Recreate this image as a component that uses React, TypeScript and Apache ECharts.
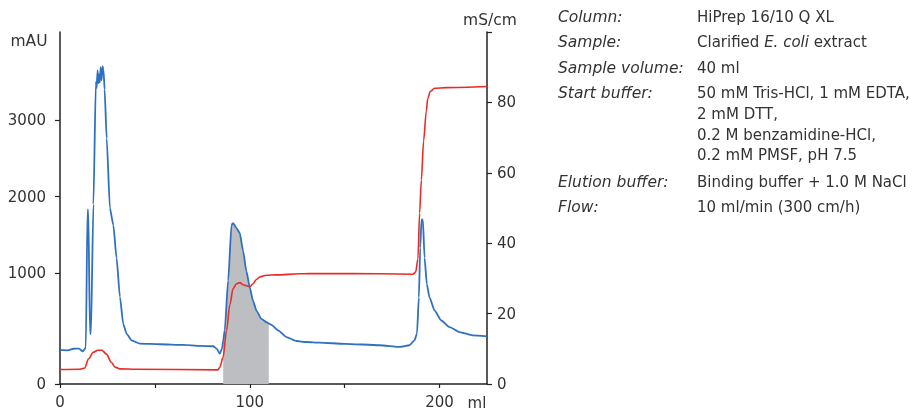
import React, { useEffect, useRef } from 'react';
import * as echarts from 'echarts';

// UV trace (ml, mAU)
const uvVolume = [0, 4, 7, 10, 12, 13.6, 14.5, 14.9, 15.8, 16.3, 17.6, 18.9, 19.3, 19.8, 20.2, 20.5, 21.0, 21.4, 21.9, 22.4, 22.9, 23.5, 24.6, 26.3, 28.1, 29.8, 31.6, 33.3, 35.1, 37.7, 42.1, 52.6, 65, 73.7, 80.7, 82.5, 84.2, 85.4, 86, 86.8, 88.6, 90.4, 91.2, 93.0, 94.7, 96.5, 98.2, 100, 101.7, 103.5, 106.1, 108.8, 110, 111.4, 114.9, 119.3, 124.6, 129.8, 136.8, 150, 168.4, 179, 184.2, 186.8, 188.1, 189.1, 189.8, 190.5, 191.2, 192.1, 193.3, 194.7, 197.4, 200.9, 205.3, 210.5, 217.5, 224.9];
const uvAbsorbance = [0, -5, 15, 18, -20, 30, 1830, 1830, 210, 210, 1900, 3500, 3420, 3650, 3480, 3600, 3490, 3690, 3520, 3700, 3660, 3400, 2760, 1850, 1630, 1200, 690, 340, 210, 125, 81, 74, 65, 52, 48, 17, -48, 17, 120, 259, 906, 1634, 1656, 1591, 1526, 1290, 1031, 815, 643, 514, 405, 362, 345, 327, 255, 168, 116, 103, 94, 80, 61, 39, 61, 125, 211, 686, 1332, 1699, 1700, 1203, 858, 686, 514, 384, 298, 233, 190, 177];

// Conductivity trace (ml, mS/cm)
const condVolume = [0, 10, 13, 15, 17.5, 20, 22, 24.5, 27, 29, 31.6, 40, 83.2, 84.2, 85.9, 87.7, 89.5, 91.2, 93, 94.7, 96.5, 98.3, 100, 101.7, 103.5, 105.3, 108.8, 114, 126.3, 136.8, 168.4, 186, 187.4, 188.6, 189.5, 190.4, 191.6, 193, 193.8, 195.1, 197.4, 203.5, 224.9];
const condValue = [4.1, 4.2, 4.5, 7.1, 9.0, 9.6, 9.6, 8.5, 6.2, 4.8, 4.3, 4.2, 4.0, 4.75, 7.55, 15.0, 22.5, 27.1, 28.5, 28.8, 28.2, 27.9, 27.6, 28.5, 29.7, 30.4, 30.9, 31.0, 31.3, 31.4, 31.3, 31.2, 31.8, 35.5, 48.6, 57.9, 69.1, 77.5, 81.2, 83.1, 84.0, 84.2, 84.5];

// Pooled fraction (ml)
const poolStart = 86;
const poolEnd = 110;

// Axes
const xMin = 0;
const xMax = 225;
const xTickValues = [0, 50, 100, 150, 200];
const xLabelValues = [0, 100, 200];
const mauMin = -445;
const mauMax = 4150;
const mauTickValues = [-445, 1000, 2000, 3000];
const mauTickLabels = ['0', '1000', '2000', '3000'];
const condMin = 0;
const condMax = 100;
const condInterval = 20;

// Info block
const infoLabels = ['Column:', 'Sample:', 'Sample volume:', 'Start buffer:', '', '', '', 'Elution buffer:', 'Flow:'];
const infoValues = [
  'HiPrep 16/10 Q XL',
  'Clarified {i|E. coli} extract',
  '40 ml',
  '50 mM Tris-HCl, 1 mM EDTA,',
  '2 mM DTT,',
  '0.2 M benzamidine-HCl,',
  '0.2 mM PMSF, pH 7.5',
  'Binding buffer + 1.0 M NaCl',
  '10 ml/min (300 cm/h)',
];
const infoY = [17, 42, 68, 93, 114, 135, 155, 182, 207];

const FONT = '"DejaVu Sans", sans-serif';
const TEXT = '#333333';
const AXIS = '#222222';

export default function App() {
  const ref = useRef<HTMLDivElement>(null);
  useEffect(() => {
    if (!ref.current) return;
    const chart = echarts.init(ref.current, undefined, { renderer: 'svg' });
    const uvData = uvVolume.map((v, i) => [v, uvAbsorbance[i]]);
    const condData = condVolume.map((v, i) => [v, condValue[i]]);
    const poolData = uvData.filter((p) => p[0] >= poolStart && p[0] <= poolEnd);

    const graphics: any[] = [];
    infoLabels.forEach((t, i) => {
      if (t) {
        graphics.push({
          type: 'text', x: 558, y: infoY[i],
          style: { text: t, fontSize: 15.5, fontFamily: FONT, fontStyle: 'italic', fill: TEXT, verticalAlign: 'middle' },
        });
      }
    });
    infoValues.forEach((t, i) => {
      graphics.push({
        type: 'text', x: 697, y: infoY[i],
        style: {
          text: t, fontSize: 15, fontFamily: FONT, fill: TEXT, verticalAlign: 'middle',
          rich: { i: { fontStyle: 'italic', fontSize: 15, fontFamily: FONT, fill: TEXT } },
        },
      });
    });
    graphics.push({ type: 'text', x: 29, y: 41, style: { text: 'mAU', fontSize: 15.5, fontFamily: FONT, fill: TEXT, align: 'center', verticalAlign: 'middle' } });
    graphics.push({ type: 'text', x: 490, y: 20, style: { text: 'mS/cm', fontSize: 15.5, fontFamily: FONT, fill: TEXT, align: 'center', verticalAlign: 'middle' } });
    graphics.push({ type: 'text', x: 477, y: 403, style: { text: 'ml', fontSize: 15, fontFamily: FONT, fill: TEXT, align: 'center', verticalAlign: 'middle' } });

    chart.setOption({
      animation: false,
      grid: { left: 60, right: 435, top: 32, bottom: 23, containLabel: false },
      xAxis: {
        type: 'value', min: xMin, max: xMax,
        axisLine: { onZero: false, lineStyle: { color: AXIS, width: 1.5 } },
        axisTick: { customValues: xTickValues, length: 4, lineStyle: { color: AXIS, width: 1.2 } },
        axisLabel: { customValues: xLabelValues, fontSize: 15, fontFamily: FONT, color: TEXT, margin: 10 },
        splitLine: { show: false },
      },
      yAxis: [
        {
          type: 'value', min: mauMin, max: mauMax, position: 'left',
          axisLine: { show: true, onZero: false, lineStyle: { color: AXIS, width: 1.5 } },
          axisTick: { show: true, customValues: mauTickValues, length: 5, lineStyle: { color: AXIS, width: 1.2 } },
          axisLabel: {
            customValues: mauTickValues, fontSize: 15, fontFamily: FONT, color: TEXT, margin: 14,
            formatter: (v: number) => mauTickLabels[mauTickValues.indexOf(v)] ?? '',
          },
          splitLine: { show: false },
        },
        {
          type: 'value', min: condMin, max: condMax, interval: condInterval, position: 'right',
          axisLine: { show: true, onZero: false, lineStyle: { color: AXIS, width: 1.5 } },
          axisTick: { show: true, length: 5, lineStyle: { color: AXIS, width: 1.2 } },
          axisLabel: {
            fontSize: 15, fontFamily: FONT, color: TEXT, margin: 10,
            formatter: (v: number) => (v >= condMax ? '' : String(v)),
          },
          splitLine: { show: false },
        },
      ],
      series: [
        {
          type: 'line', name: 'pool', data: poolData, yAxisIndex: 0, showSymbol: false,
          smooth: 0.3, smoothMonotone: 'x',
          lineStyle: { width: 0 }, areaStyle: { color: '#bdbec2', opacity: 1, origin: 'start' }, z: 1,
        },
        {
          type: 'line', name: 'Conductivity', data: condData, yAxisIndex: 1, showSymbol: false,
          smooth: 0.3, smoothMonotone: 'x',
          lineStyle: { color: '#ea2b25', width: 1.6 }, z: 2,
        },
        {
          type: 'line', name: 'UV', data: uvData, yAxisIndex: 0, showSymbol: false,
          smooth: 0.2, smoothMonotone: 'x',
          lineStyle: { color: '#2f70c0', width: 1.8 }, z: 3,
        },
      ],
      graphic: graphics,
    });
    return () => chart.dispose();
  }, []);
  return <div ref={ref} style={{ position: 'fixed', left: 0, top: 0, width: 922, height: 409 }} />;
}
